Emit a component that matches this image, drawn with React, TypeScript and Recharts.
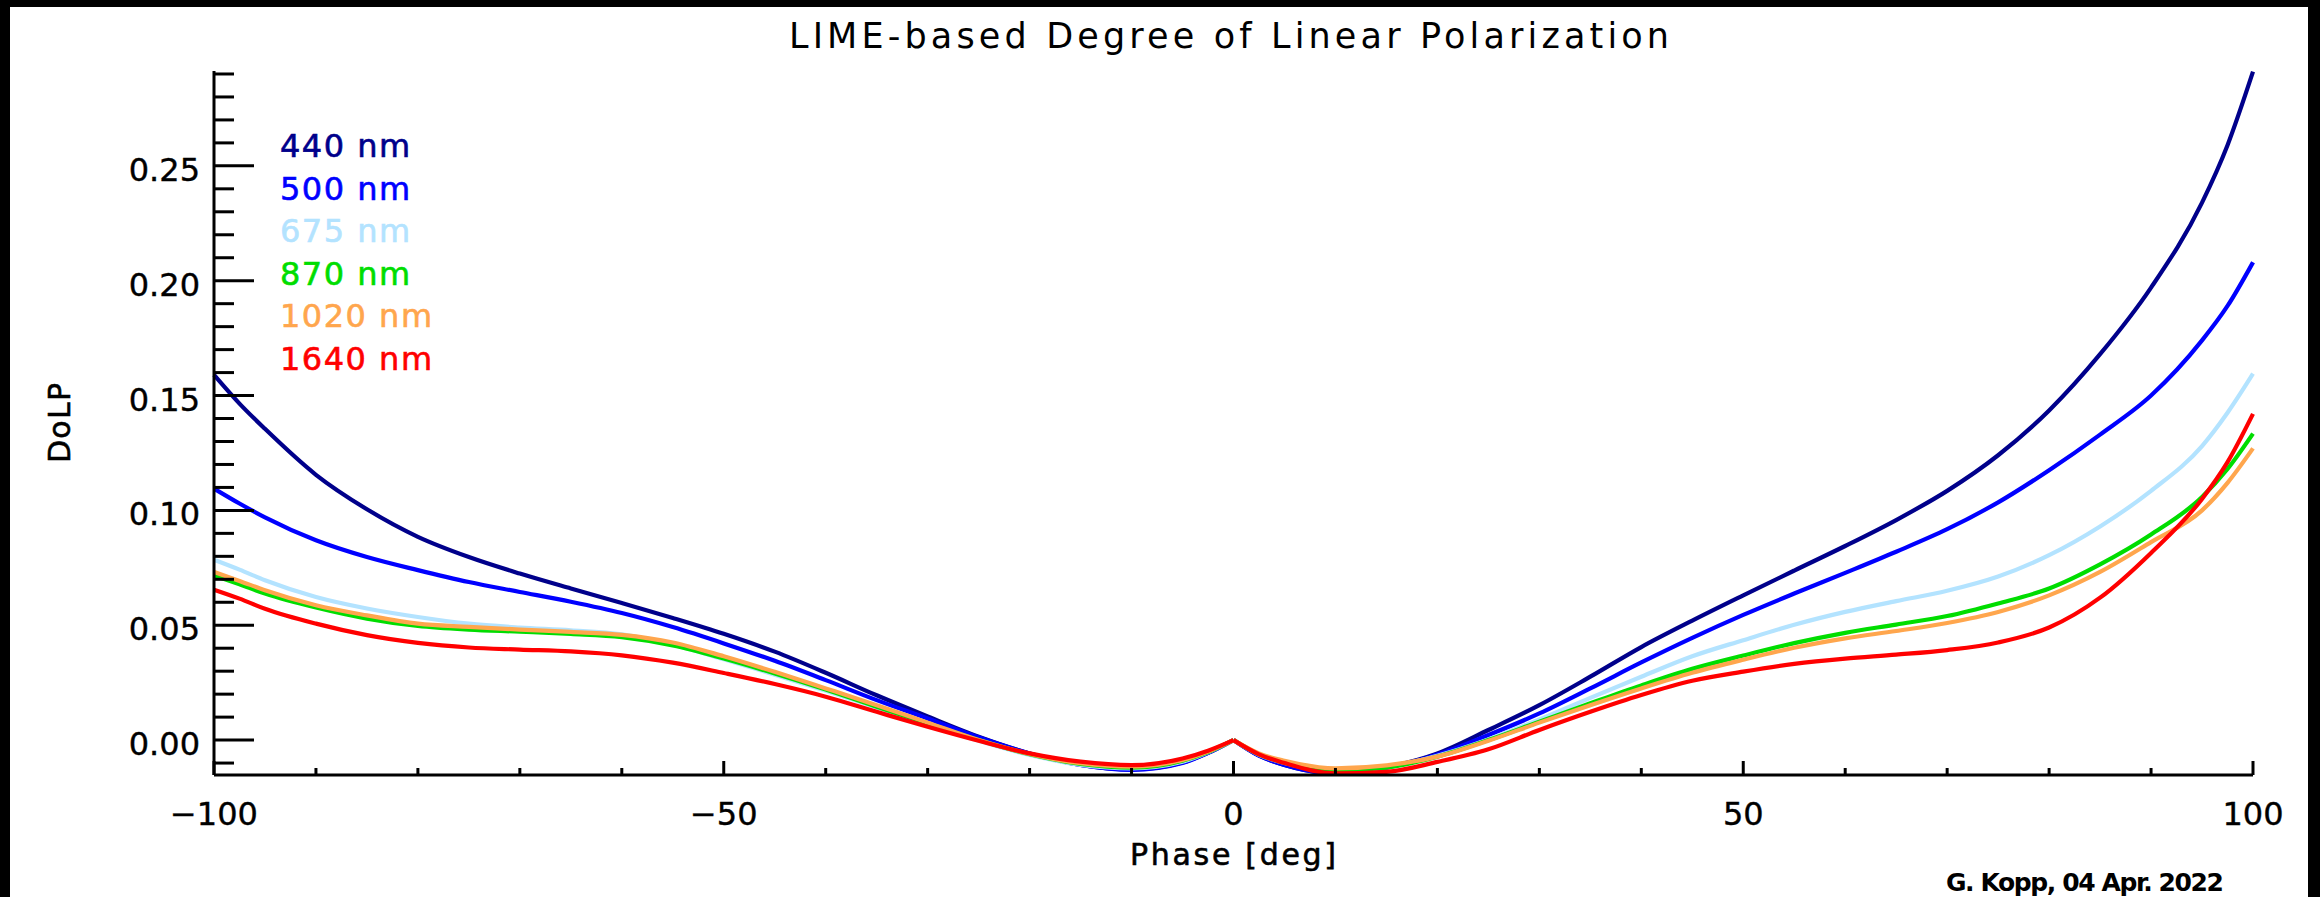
import React from 'react';
import { LineChart, Line, XAxis, YAxis } from 'recharts';

// phase angle grid (deg) shared by all curves
const phaseDeg = [
  -100, -97.5, -95, -90, -85, -80, -75, -70, -65, -60, -55, -50, -45, -40, -35, -30, -25, -20, -15, -10, -5, -2.5,
  0, 2.5, 5, 10, 15, 20, 25, 30, 35, 40, 45, 50, 55, 60, 65, 70, 75, 80, 85, 90, 95, 97.5, 100,
];

// degree of linear polarization per wavelength
const dolp440 = [
  0.159, 0.1465, 0.1355, 0.1155, 0.1005, 0.0885, 0.0797, 0.0725, 0.066, 0.0597, 0.0532, 0.0463, 0.0385, 0.0293,
  0.0195, 0.0103, 0.0015, -0.0058, -0.0108, -0.0128, -0.0098, -0.0056, 0.0, -0.0068, -0.0108, -0.0145, -0.0118,
  -0.0058, 0.0044, 0.0152, 0.0276, 0.0405, 0.052, 0.063, 0.0738, 0.0845, 0.0958, 0.1085, 0.124, 0.1435, 0.168, 0.197,
  0.234, 0.259, 0.291,
];
const dolp500 = [
  0.1095, 0.103, 0.097, 0.087, 0.0797, 0.074, 0.0688, 0.0645, 0.0602, 0.0553, 0.0492, 0.0421, 0.0345, 0.0261, 0.0174,
  0.0094, 0.0012, -0.0058, -0.0108, -0.013, -0.01, -0.0056, 0.0, -0.0068, -0.0108, -0.0145, -0.012, -0.0063, 0.0022,
  0.0116, 0.0225, 0.0338, 0.0445, 0.0545, 0.0638, 0.0728, 0.082, 0.0918, 0.1035, 0.1175, 0.133, 0.15, 0.174, 0.189,
  0.208,
];
const dolp675 = [
  0.0785, 0.0742, 0.0696, 0.0623, 0.0573, 0.0536, 0.0507, 0.049, 0.0478, 0.046, 0.0415, 0.0352, 0.0285, 0.0215,
  0.0142, 0.007, -0.0003, -0.0065, -0.0108, -0.0123, -0.0094, -0.0053, 0.0, -0.0064, -0.01, -0.0135, -0.0118, -0.0068,
  0.0003, 0.009, 0.0184, 0.0276, 0.0365, 0.0435, 0.0502, 0.0558, 0.0605, 0.065, 0.0712, 0.0805, 0.093, 0.1085, 0.128,
  0.1425, 0.1595,
];
const dolp870 = [
  0.0717, 0.0678, 0.0638, 0.0577, 0.0529, 0.0497, 0.0481, 0.0472, 0.0462, 0.0448, 0.0412, 0.0355, 0.029, 0.022,
  0.0145, 0.0073, 0.0, -0.0062, -0.0104, -0.012, -0.009, -0.0052, 0.0, -0.0062, -0.0098, -0.0133, -0.012, -0.0072,
  0.0, 0.008, 0.016, 0.0238, 0.031, 0.0368, 0.0422, 0.0467, 0.0503, 0.054, 0.0595, 0.066, 0.0765, 0.0895, 0.1058,
  0.118, 0.1334,
];
const dolp1020 = [
  0.0732, 0.0693, 0.0652, 0.0587, 0.0543, 0.0507, 0.0493, 0.0481, 0.0471, 0.0458, 0.0425, 0.0365, 0.0297, 0.0225,
  0.0152, 0.0076, 0.0, -0.006, -0.0101, -0.0116, -0.0087, -0.005, 0.0, -0.0058, -0.009, -0.0123, -0.011, -0.0072,
  -0.0003, 0.0076, 0.0152, 0.0225, 0.0293, 0.035, 0.0402, 0.0443, 0.0475, 0.051, 0.0558, 0.063, 0.0732, 0.0862, 0.1,
  0.112, 0.127,
];
const dolp1640 = [
  0.0655, 0.0616, 0.0572, 0.0507, 0.0457, 0.0423, 0.0403, 0.0394, 0.0386, 0.0369, 0.0337, 0.0292, 0.0244, 0.0189,
  0.0123, 0.0058, -0.0003, -0.0058, -0.0094, -0.0109, -0.008, -0.0046, 0.0, -0.0062, -0.01, -0.0145, -0.0138, -0.0095,
  -0.004, 0.0044, 0.0123, 0.0196, 0.0258, 0.0298, 0.0332, 0.0355, 0.0372, 0.0392, 0.0425, 0.049, 0.062, 0.0815, 0.105,
  0.121, 0.142,
];

const wavelengths = ['440 nm', '500 nm', '675 nm', '870 nm', '1020 nm', '1640 nm'];
const colors = ['#00008b', '#0000ff', '#b3e3ff', '#00dd00', '#ffa64d', '#ff0000'];
const curves = [dolp440, dolp500, dolp675, dolp870, dolp1020, dolp1640];

const xTicks = [-100, -90, -80, -70, -60, -50, -40, -30, -20, -10, 0, 10, 20, 30, 40, 50, 60, 70, 80, 90, 100];
const yTicks = [
  -0.01, 0, 0.01, 0.02, 0.03, 0.04, 0.05, 0.06, 0.07, 0.08, 0.09, 0.1, 0.11, 0.12, 0.13, 0.14, 0.15, 0.16, 0.17, 0.18,
  0.19, 0.2, 0.21, 0.22, 0.23, 0.24, 0.25, 0.26, 0.27, 0.28, 0.29,
];

const FONT = '"DejaVu Sans", sans-serif';

// each curve is split at the 0 deg cusp so the spline keeps the sharp peak
const rows = phaseDeg.map((p, i) => {
  const row: Record<string, number | null> = { phase: p };
  curves.forEach((vals, s) => {
    row[`l${s}`] = p <= 0 ? vals[i] : null;
    row[`r${s}`] = p >= 0 ? vals[i] : null;
  });
  return row;
});

const isMajorY = (v: number) => Math.abs(v / 0.05 - Math.round(v / 0.05)) < 1e-6;

function XTick(props: any) {
  const { x, y, payload } = props;
  const v = payload.value as number;
  const major = v % 50 === 0;
  const label = v < 0 ? `\u2212${Math.abs(v)}` : `${v}`;
  return (
    <g>
      <line x1={x} x2={x} y1={y} y2={y - (major ? 14 : 7)} stroke="#000" strokeWidth={3} />
      {major && (
        <text x={x} y={y + 50} textAnchor="middle" fontSize={32} fontFamily={FONT} fill="#000" stroke="#000" strokeWidth={0.4}>
          {label}
        </text>
      )}
    </g>
  );
}

function YTick(props: any) {
  const { x, y, payload } = props;
  const v = payload.value as number;
  const major = isMajorY(v);
  return (
    <g>
      <line x1={x} x2={x + (major ? 40 : 20)} y1={y} y2={y} stroke="#000" strokeWidth={3} />
      {major && (
        <text x={x - 14} y={y + 15} textAnchor="end" fontSize={32} fontFamily={FONT} fill="#000" stroke="#000" strokeWidth={0.4}>
          {v.toFixed(2)}
        </text>
      )}
    </g>
  );
}

const legendBaselines = [157, 200, 242, 285, 327, 370];

export default function App() {
  return (
    <div
      style={{
        position: 'absolute',
        left: 0,
        top: 0,
        width: 2320,
        height: 897,
        background: '#000',
        overflow: 'hidden',
      }}
    >
      <div style={{ position: 'absolute', left: 10, top: 7, width: 2298, height: 890, background: '#fff' }} />
      <div style={{ position: 'absolute', left: 0, top: 0 }}>
        <LineChart width={2320} height={897} data={rows} margin={{ top: 71, right: 67, bottom: 0, left: 0 }}>
          <XAxis
            dataKey="phase"
            type="number"
            domain={[-100, 100]}
            ticks={xTicks}
            interval={0}
            height={122}
            tickSize={0}
            tickMargin={0}
            tickLine={false}
            axisLine={{ stroke: '#000', strokeWidth: 3 }}
            tick={(p: any) => <XTick {...p} />}
          />
          <YAxis
            type="number"
            domain={[-0.0152, 0.2913]}
            allowDataOverflow
            ticks={yTicks}
            interval={0}
            width={214}
            tickSize={0}
            tickMargin={0}
            tickLine={false}
            axisLine={{ stroke: '#000', strokeWidth: 3 }}
            tick={(p: any) => <YTick {...p} />}
          />
          {curves.map((_, s) => [
            <Line
              key={`l${s}`}
              dataKey={`l${s}`}
              type="monotone"
              stroke={colors[s]}
              strokeWidth={4.2}
              dot={false}
              activeDot={false}
              isAnimationActive={false}
            />,
            <Line
              key={`r${s}`}
              dataKey={`r${s}`}
              type="monotone"
              stroke={colors[s]}
              strokeWidth={4.2}
              dot={false}
              activeDot={false}
              isAnimationActive={false}
            />,
          ])}
        </LineChart>
      </div>
      <svg
        width={2320}
        height={897}
        style={{ position: 'absolute', left: 0, top: 0, pointerEvents: 'none' }}
        fontFamily={FONT}
      >
        <text x={1229} y={48} textAnchor="middle" fontSize={35} textLength={880} lengthAdjust="spacing" fill="#000">
          LIME-based Degree of Linear Polarization
        </text>
        {wavelengths.map((w, i) => (
          <text
            key={w}
            x={280}
            y={legendBaselines[i]}
            fontSize={32}
            letterSpacing={1.5}
            fill={colors[i]}
            stroke={colors[i]}
            strokeWidth={0.6}
          >
            {w}
          </text>
        ))}
        <text
          x={1233}
          y={865}
          textAnchor="middle"
          fontSize={30}
          textLength={206}
          lengthAdjust="spacing"
          fill="#000"
          stroke="#000"
          strokeWidth={0.6}
        >
          Phase [deg]
        </text>
        <text
          transform="translate(70, 423) rotate(-90)"
          textAnchor="middle"
          fontSize={30}
          textLength={80}
          lengthAdjust="spacing"
          fill="#000"
          stroke="#000"
          strokeWidth={0.6}
        >
          DoLP
        </text>
        <text x={2224} y={891} textAnchor="end" fontSize={25} fontWeight="bold" textLength={278} lengthAdjust="spacing" fill="#000">
          G. Kopp, 04 Apr. 2022
        </text>
      </svg>
    </div>
  );
}
